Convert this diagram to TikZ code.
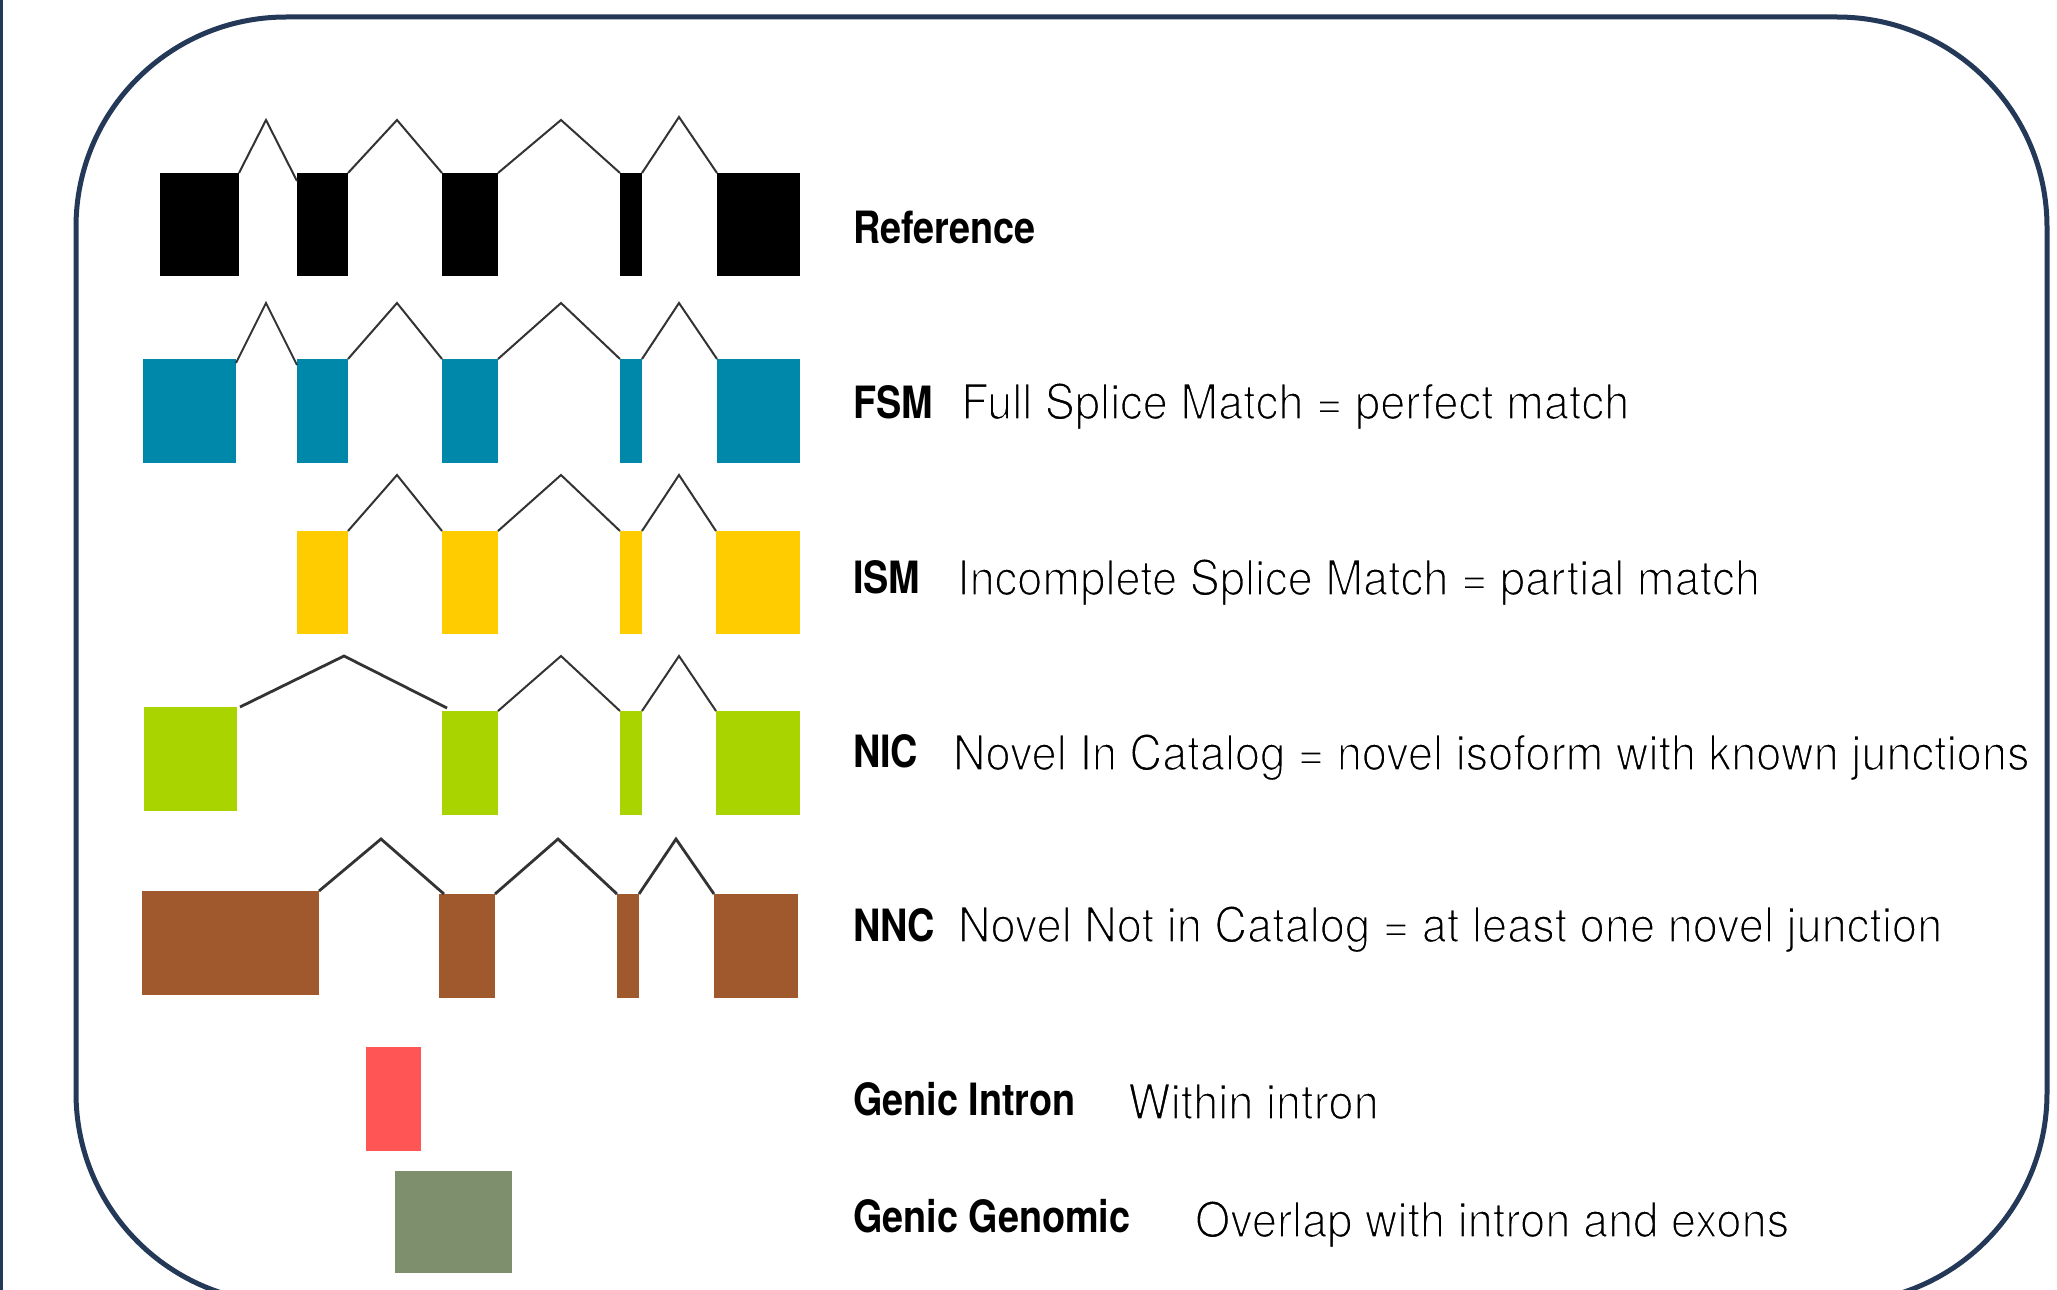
\documentclass[tikz,border=0pt]{standalone}
\usepackage{fontspec}
\newfontfamily\labfont{TeX Gyre Heros}[FakeStretch=0.85]
\newfontfamily\descfont{TeX Gyre Heros}[FakeStretch=0.93]
\definecolor{navy}{HTML}{243858}
\definecolor{cref}{HTML}{000000}
\definecolor{cfsm}{HTML}{0088AA}
\definecolor{cism}{HTML}{FFCC00}
\definecolor{cnic}{HTML}{AAD400}
\definecolor{cnnc}{HTML}{A0592C}
\definecolor{cgi}{HTML}{FF5555}
\definecolor{cgg}{HTML}{7E8F6E}
\definecolor{introngray}{HTML}{333333}
\newcommand\thintext[1]{\special{pdf:code 1 G 1 j 1.5 w 2 Tr}#1\special{pdf:code 0 Tr}}
\tikzset{
  exon/.style={inner sep=0pt, outer sep=0pt, draw=none, anchor=north west, minimum height=103pt},
  intron/.style={draw=introngray, line width=2pt, line join=miter},
  thickintron/.style={draw=introngray, line width=2.8pt, line join=miter},
  labtxt/.style={inner sep=0pt, outer sep=0pt, anchor=base west, font=\labfont\bfseries\fontsize{44.5}{50}\selectfont},
  desctxt/.style={inner sep=0pt, outer sep=0pt, anchor=base west, text=black, font=\descfont\fontsize{48.6}{55}\selectfont},
  frame/.style={draw=navy, line width=5pt, rounded corners=210pt}
}
\begin{document}
\begin{tikzpicture}[x=1pt, y=-1pt]
\useasboundingbox (0,0) rectangle (2057,1290);
\clip (0,0) rectangle (2057,1290);
\fill[white] (0,0) rectangle (2057,1290);
% frame
\draw[frame] (76,17) rectangle (2047,1303);
\draw[navy, line width=3pt] (1,0) -- (1,1290);

% Reference row
\node[exon, fill=cref, minimum width=79pt] (r1) at (160,173) {};
\node[exon, fill=cref, minimum width=51pt] (r2) at (297,173) {};
\node[exon, fill=cref, minimum width=56pt] (r3) at (442,173) {};
\node[exon, fill=cref, minimum width=22pt] (r4) at (620,173) {};
\node[exon, fill=cref, minimum width=83pt] (r5) at (717,173) {};
\coordinate (rp1) at (266,120);
\coordinate (rp2) at (397,120);
\coordinate (rp3) at (561,120);
\coordinate (rp4) at (679,117);
\draw[intron] (r1.north east) -- (rp1) -- ([yshift=-8pt]r2.north west);
\draw[intron] (r2.north east) -- (rp2) -- (r3.north west);
\draw[intron] (r3.north east) -- (rp3) -- (r4.north west);
\draw[intron] (r4.north east) -- (rp4) -- (r5.north west);

% FSM row
\node[exon, fill=cfsm, minimum width=93pt, minimum height=104pt] (f1) at (143,359) {};
\node[exon, fill=cfsm, minimum width=51pt, minimum height=104pt] (f2) at (297,359) {};
\node[exon, fill=cfsm, minimum width=56pt, minimum height=104pt] (f3) at (442,359) {};
\node[exon, fill=cfsm, minimum width=22pt, minimum height=104pt] (f4) at (620,359) {};
\node[exon, fill=cfsm, minimum width=83pt, minimum height=104pt] (f5) at (717,359) {};
\coordinate (fp1) at (266,303);
\coordinate (fp2) at (397,303);
\coordinate (fp3) at (561,303);
\coordinate (fp4) at (679,303);
\draw[intron] ([yshift=-4pt]f1.north east) -- (fp1) -- ([yshift=-6pt]f2.north west);
\draw[intron] (f2.north east) -- (fp2) -- (f3.north west);
\draw[intron] (f3.north east) -- (fp3) -- (f4.north west);
\draw[intron] (f4.north east) -- (fp4) -- (f5.north west);

% ISM row
\node[exon, fill=cism, minimum width=51pt] (i2) at (297,531) {};
\node[exon, fill=cism, minimum width=56pt] (i3) at (442,531) {};
\node[exon, fill=cism, minimum width=22pt] (i4) at (620,531) {};
\node[exon, fill=cism, minimum width=84pt] (i5) at (716,531) {};
\coordinate (ip2) at (397,475);
\coordinate (ip3) at (561,475);
\coordinate (ip4) at (679,475);
\draw[intron] (i2.north east) -- (ip2) -- (i3.north west);
\draw[intron] (i3.north east) -- (ip3) -- (i4.north west);
\draw[intron] (i4.north east) -- (ip4) -- (i5.north west);

% NIC row
\node[exon, fill=cnic, minimum width=93pt, minimum height=104pt] (n1) at (144,707) {};
\node[exon, fill=cnic, minimum width=56pt, minimum height=104pt] (n3) at (442,711) {};
\node[exon, fill=cnic, minimum width=22pt, minimum height=104pt] (n4) at (620,711) {};
\node[exon, fill=cnic, minimum width=84pt, minimum height=104pt] (n5) at (716,711) {};
\coordinate (np1) at (344,656);
\coordinate (np3) at (561,656);
\coordinate (np4) at (679,656);
\draw[thickintron] ([xshift=3pt]n1.north east) -- (np1) -- ([xshift=5pt,yshift=3pt]n3.north west);
\draw[intron] (n3.north east) -- (np3) -- (n4.north west);
\draw[intron] (n4.north east) -- (np4) -- (n5.north west);

% NNC row
\node[exon, fill=cnnc, minimum width=177pt, minimum height=104pt] (c1) at (142,891) {};
\node[exon, fill=cnnc, minimum width=56pt, minimum height=104pt] (c3) at (439,894) {};
\node[exon, fill=cnnc, minimum width=22pt, minimum height=104pt] (c4) at (617,894) {};
\node[exon, fill=cnnc, minimum width=84pt, minimum height=104pt] (c5) at (714,894) {};
\coordinate (cp1) at (381,839);
\coordinate (cp3) at (558,839);
\coordinate (cp4) at (676,839);
\draw[thickintron] (c1.north east) -- (cp1) -- ([xshift=5pt]c3.north west);
\draw[thickintron] (c3.north east) -- (cp3) -- (c4.north west);
\draw[thickintron] (c4.north east) -- (cp4) -- (c5.north west);

% Genic
\node[exon, fill=cgi, minimum width=55pt, minimum height=104pt] (gi) at (366,1047) {};
\node[exon, fill=cgg, minimum width=117pt, minimum height=102pt] (gg) at (395,1171) {};

% Labels
\node[labtxt] (lref) at (853,243) {Reference};
\node[labtxt] (lfsm) at (853,418) {FSM};
\node[labtxt] (lism) at (853,593) {ISM};
\node[labtxt] (lnic) at (853,767) {NIC};
\node[labtxt] (lnnc) at (853,941) {NNC};
\node[labtxt] (lgi) at (853,1115) {Genic Intron};
\node[labtxt] (lgg) at (853,1232) {Genic Genomic};

% Descriptions
\node[desctxt] (dfsm) at (961,419) {\thintext{Full Splice Match = perfect match}};
\node[desctxt] (dism) at (957,595) {\thintext{Incomplete Splice Match = partial match}};
\node[desctxt] (dnic) at (953,770) {\thintext{Novel In Catalog = novel isoform with known junctions}};
\node[desctxt] (dnnc) at (958,942) {\thintext{Novel Not in Catalog = at least one novel junction}};
\node[desctxt] (dgi) at (1128,1119) {\thintext{Within intron}};
\node[desctxt] (dgg) at (1195,1237) {\thintext{Overlap with intron and exons}};
\end{tikzpicture}
\end{document}
